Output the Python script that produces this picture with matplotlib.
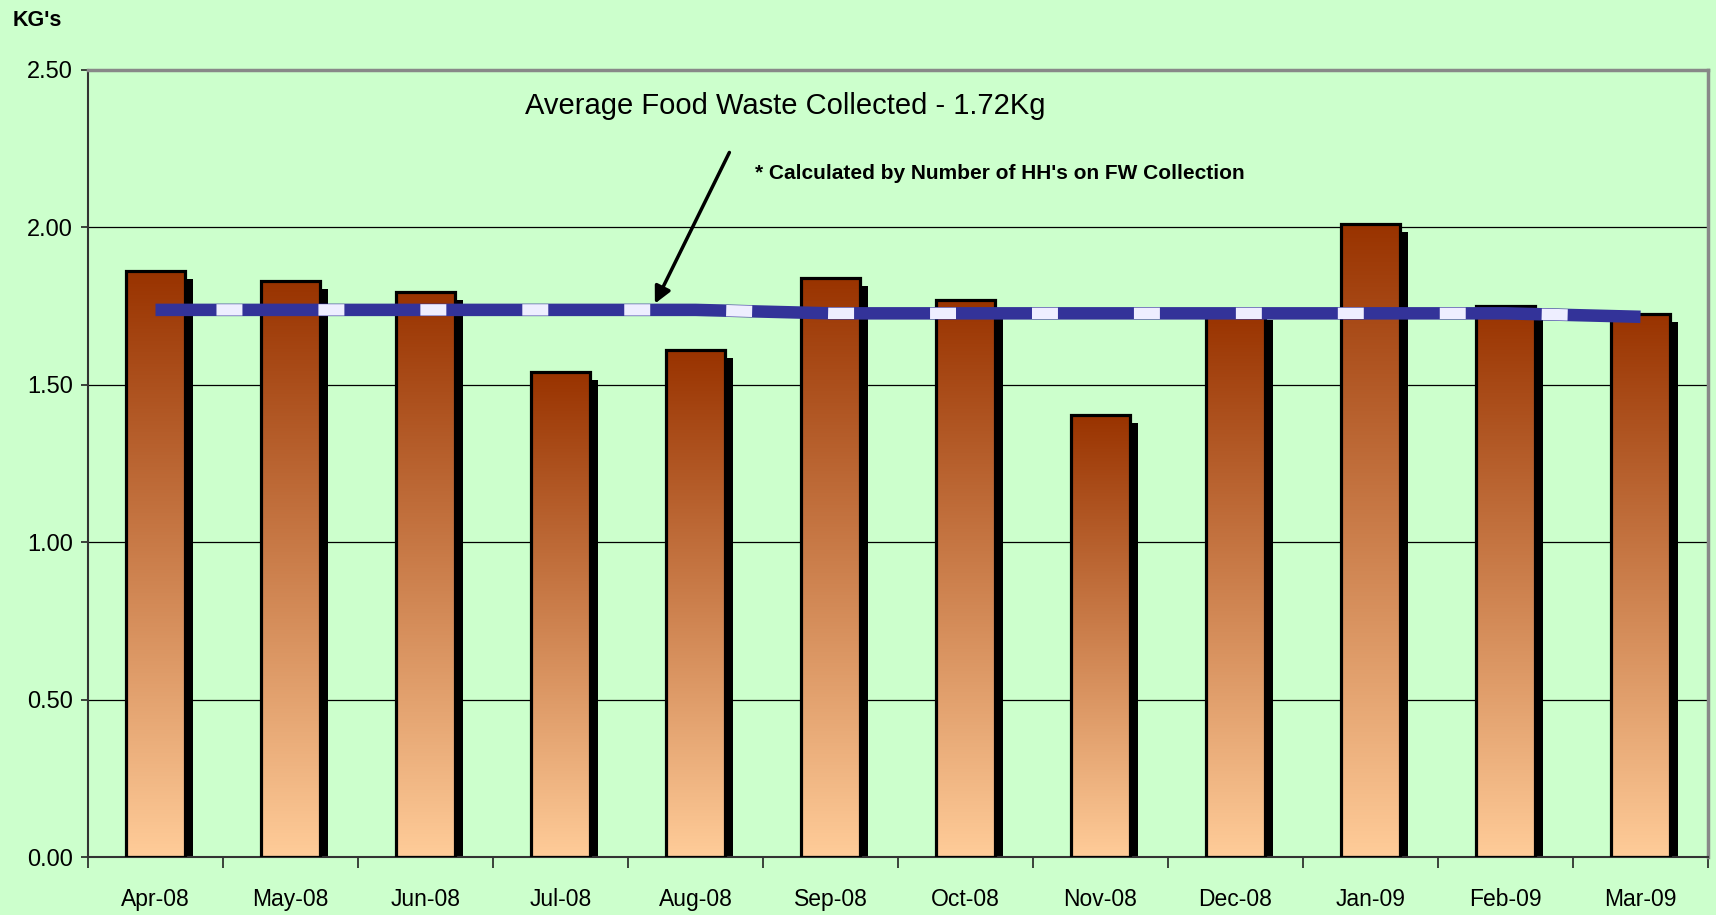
import numpy as np
import matplotlib
matplotlib.use("Agg")
import matplotlib.pyplot as plt
from matplotlib import font_manager
from matplotlib.colors import LinearSegmentedColormap

months = ["Apr-08", "May-08", "Jun-08", "Jul-08", "Aug-08", "Sep-08",
          "Oct-08", "Nov-08", "Dec-08", "Jan-09", "Feb-09", "Mar-09"]
kgs = [1.86, 1.83, 1.795, 1.54, 1.61, 1.84, 1.77, 1.405, 1.73, 2.01, 1.75, 1.725]
avg_line = [1.738, 1.738, 1.738, 1.738, 1.738, 1.727, 1.727, 1.727, 1.727, 1.727, 1.727, 1.716]
yticks = [0.0, 0.5, 1.0, 1.5, 2.0, 2.5]

# narrow font if we have it
names = {f.name for f in font_manager.fontManager.ttflist}
narrow = "Liberation Sans Narrow" if "Liberation Sans Narrow" in names else "Liberation Sans"
plt.rcParams["font.family"] = [narrow, "DejaVu Sans"]
plt.rcParams["lines.scale_dashes"] = False

bg = "#CCFFCC"
fig = plt.figure(figsize=(17.16, 9.15), dpi=100, facecolor=bg)
ax = fig.add_axes([88 / 1716, 1 - 857 / 915, 1620 / 1716, 787 / 915])
ax.set_facecolor(bg)

cmap = LinearSegmentedColormap.from_list("rust", ["#FFCC99", "#993300"])
x = np.arange(len(months))
w = 0.43
dx, dy = 0.06, 0.025

# shadows
ax.bar(x + dx, np.array(kgs) - dy, w, color="black", zorder=1)
# gradient fill per bar
grad = np.linspace(0, 1, 256).reshape(-1, 1)
for xi, v in zip(x, kgs):
    ax.imshow(grad, cmap=cmap, origin="lower", aspect="auto",
              extent=(xi - w / 2, xi + w / 2, 0, v), zorder=2)
ax.bar(x, kgs, w, fill=False, edgecolor="black", linewidth=2.3, zorder=3)

# average line, blue with white dashes
ax.plot(x, avg_line, color="#333399", lw=9, solid_capstyle="butt", zorder=4)
ax.plot(x, avg_line, color="#EEEEFF", lw=8.2, linestyle=(29.5, (18.7, 54.7)),
        dash_capstyle="butt", zorder=5)

ax.set_xlim(-0.5, len(months) - 0.5)
ax.set_ylim(0, 2.5)
ax.set_yticks(yticks)
ax.set_yticklabels([f"{t:.2f}" for t in yticks], fontsize=17)
ax.set_xticks(x)
ax.set_xticklabels(months, fontsize=16.5)
ax.set_xticks(np.arange(-0.5, len(months)), minor=True)
ax.tick_params(axis="x", which="major", length=0, pad=22)
ax.tick_params(axis="x", which="minor", length=8, width=1.2, color="#222222")
ax.tick_params(axis="y", length=5, width=1.2, color="#222222", pad=6)

for yv in yticks[1:-1]:
    ax.axhline(yv, color="black", lw=0.9, zorder=0.5)

ax.spines["left"].set_color("#333333")
ax.spines["left"].set_linewidth(1.5)
ax.spines["bottom"].set_color("#333333")
ax.spines["bottom"].set_linewidth(1.5)
for s in ["top", "right"]:
    ax.spines[s].set_color("#888888")
    ax.spines[s].set_linewidth(2.5)

# annotations
ax.text(0.270, 0.954, "Average Food Waste Collected - 1.72Kg", transform=ax.transAxes,
        fontsize=21, va="center", ha="left")
ax.text(0.412, 0.869, "* Calculated by Number of HH's on FW Collection", transform=ax.transAxes,
        fontsize=15, fontweight="bold", va="center", ha="left")
ax.annotate("", xy=(3.69, 1.75), xytext=(4.26, 2.246),
            arrowprops=dict(arrowstyle="-|>", color="black", lw=2.5,
                            mutation_scale=25), zorder=6)

fig.text(13 / 1716, 1 - 20 / 915, "KG's", fontsize=15.5, fontweight="bold",
         va="center", ha="left")

fig.savefig("out.png", dpi=100, facecolor=bg)
